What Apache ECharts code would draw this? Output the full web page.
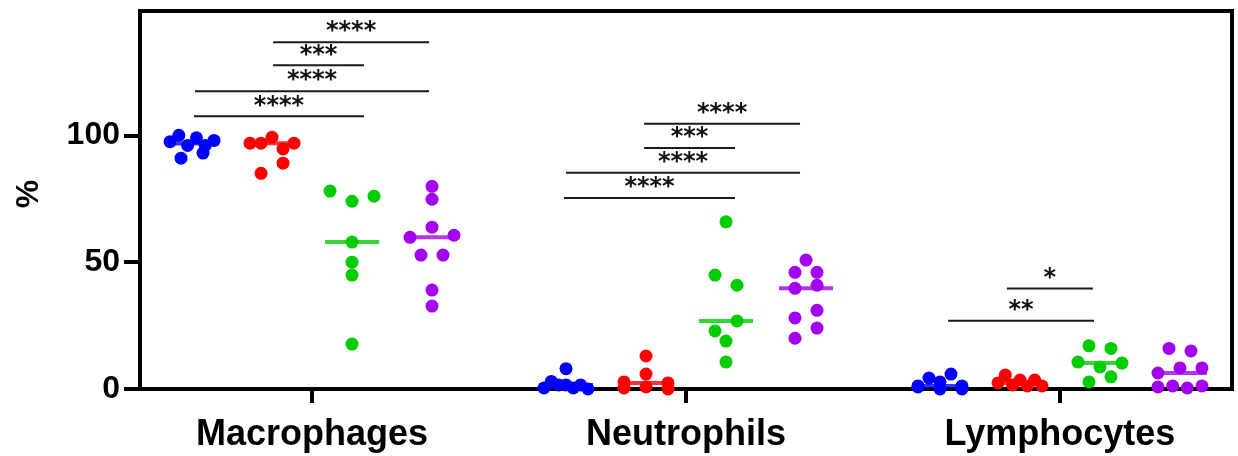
<!DOCTYPE html>
<html>
<head>
<meta charset="utf-8">
<script src="https://cdn.jsdelivr.net/npm/echarts@6/dist/echarts.min.js"></script>
<style>
html,body{margin:0;padding:0;background:#fff;}
#chart{width:1238px;height:456px;}
</style>
</head>
<body>
<div id="chart"></div>
<script>
// ---------- data ----------
const categories = ['Macrophages', 'Neutrophils', 'Lymphocytes'];
const groupColors = ['#0000ff', '#ff0000', '#00cc00', '#a200ee'];
const yTicks = [0, 50, 100];

const macBlue   = [97.5, 100, 96, 99, 96, 98, 91, 93];
const macRed    = [96.9, 96.9, 99.2, 94.6, 96.9, 85, 89];
const macGreen  = [78, 74, 76, 57.9, 50, 44.9, 17.7];
const macPurple = [79.9, 74.8, 59.8, 63.8, 60.6, 52.8, 52.8, 39, 32.7];

const neuBlue   = [8, 0.4, 3, 1.6, 1.6, 0.4, 1.6, 0];
const neuRed    = [13, 2.8, 5.9, 2.4, 0.4, 0.8, 0];
const neuGreen  = [65.9, 44.9, 40.9, 22.9, 26.8, 18.9, 10.6];
const neuPurple = [50.8, 46, 46, 39.7, 40.9, 28, 31, 20, 24];

const lymBlue   = [1.2, 4.3, 2.8, 5.9, 1.2, 0.8, 0, 0];
const lymRed    = [2.4, 5.5, 1.6, 3.5, 1.2, 3.5, 1.2];
const lymGreen  = [17, 16, 10.6, 8.7, 10.2, 2.8, 4.8];
const lymPurple = [16, 15, 6.3, 8.3, 8.3, 0.8, 1.2, 0.4, 1.2];

// significance brackets (category, x from / to relative to category, y level, label)
const bracketCat   = [0, 0, 0, 0, 1, 1, 1, 1, 2, 2];
const bracketFrom  = [-0.316, -0.313, -0.104, -0.104, -0.326, -0.321, -0.112, -0.112, -0.299, -0.142];
const bracketTo    = [0.139, 0.313, 0.139, 0.313, 0.131, 0.305, 0.131, 0.305, 0.091, 0.088];
const bracketY     = [107.5, 117.4, 127.6, 136.7, 75.3, 85.2, 95, 104.6, 26.9, 39.6];
const bracketLabel = ['****', '****', '***', '****', '****', '****', '***', '****', '**', '*'];

// ---------- layout ----------
const W = 1238, H = 456;
const GRID = {left: 140, right: 6, top: 11, bottom: 67};
const X_MIN = -0.46, X_MAX = 2.46, Y_MIN = 0, Y_MAX = 149;
const PX_X = (W - GRID.left - GRID.right) / (X_MAX - X_MIN);
const PX_Y = (H - GRID.top - GRID.bottom) / (Y_MAX - Y_MIN);
const GROUP_STEP = 80 / PX_X;
const ROW_H = 12, MAX_HALF = 22, STEP = 22;

const table = [
  [macBlue, macRed, macGreen, macPurple],
  [neuBlue, neuRed, neuGreen, neuPurple],
  [lymBlue, lymRed, lymGreen, lymPurple]
];

function swarm(vals) {
  const idx = vals.map((v, i) => i).sort((a, b) => (vals[b] - vals[a]) || (a - b));
  const rows = [];
  let cur = null;
  idx.forEach(i => {
    if (cur && (vals[cur.top] - vals[i]) * PX_Y <= ROW_H) cur.m.push(i);
    else { cur = {top: i, m: [i]}; rows.push(cur); }
  });
  const off = new Array(vals.length).fill(0);
  rows.forEach(r => {
    r.m.sort((a, b) => a - b);
    const n = r.m.length;
    const step = n > 1 ? Math.min(STEP, 2 * MAX_HALF / (n - 1)) : 0;
    r.m.forEach((i, k) => { off[i] = (k - (n - 1) / 2) * step; });
  });
  return off;
}
function median(a) {
  const s = a.slice().sort((x, y) => x - y);
  const n = s.length;
  return n % 2 ? s[(n - 1) / 2] : (s[n / 2 - 1] + s[n / 2]) / 2;
}

const series = [];
groupColors.forEach((col, g) => {
  const pts = [], meds = [];
  table.forEach((groups, c) => {
    const vals = groups[g];
    const cx = c + (g - 1.5) * GROUP_STEP;
    const off = swarm(vals);
    vals.forEach((v, i) => pts.push([cx + off[i] / PX_X, v]));
    meds.push([cx, median(vals)]);
  });
  series.push({
    type: 'scatter', data: meds, symbol: 'rect', symbolSize: [54, 4],
    itemStyle: {color: col}, z: 3, silent: true
  });
  series.push({
    type: 'scatter', data: pts, symbol: 'circle', symbolSize: 13,
    itemStyle: {color: col, opacity: 1}, z: 4, silent: true
  });
});

series.push({
  type: 'custom',
  data: bracketCat.map((c, i) => [c + bracketFrom[i], c + bracketTo[i], bracketY[i]]),
  encode: {x: [0, 1], y: 2},
  z: 5, silent: true,
  renderItem: function (params, api) {
    const p1 = api.coord([api.value(0), api.value(2)]);
    const p2 = api.coord([api.value(1), api.value(2)]);
    return {
      type: 'group',
      children: [
        {type: 'line', shape: {x1: p1[0], y1: p1[1], x2: p2[0], y2: p2[1]},
          style: {stroke: '#1a1a1a', lineWidth: 2}},
        {type: 'text', x: (p1[0] + p2[0]) / 2, y: p1[1] - 10,
          style: {text: bracketLabel[params.dataIndex], fill: '#111',
            font: 'bold 24px "DejaVu Sans"', align: 'center', verticalAlign: 'middle'}}
      ]
    };
  }
});

const chart = echarts.init(document.getElementById('chart'), null, {renderer: 'canvas'});
chart.setOption({
  animation: false,
  backgroundColor: '#fff',
  grid: {left: GRID.left, right: GRID.right, top: GRID.top, bottom: GRID.bottom,
    show: true, borderColor: '#000', borderWidth: 4, containLabel: false},
  xAxis: {
    type: 'value', min: X_MIN, max: X_MAX,
    splitLine: {show: false},
    axisLine: {show: true, onZero: false, lineStyle: {color: '#000', width: 4}},
    axisTick: {show: true, customValues: [0, 1, 2], length: 14, lineStyle: {color: '#000', width: 4}},
    axisLabel: {show: true, customValues: [0, 1, 2], formatter: v => categories[Math.round(v)] || '',
      fontSize: 36, fontWeight: 'bold', color: '#000', fontFamily: '"Liberation Sans", Arial, sans-serif', margin: 28}
  },
  yAxis: {
    type: 'value', min: Y_MIN, max: Y_MAX,
    splitLine: {show: false},
    axisLine: {show: true, onZero: false, lineStyle: {color: '#000', width: 4}},
    axisTick: {show: true, customValues: yTicks, length: 16, lineStyle: {color: '#000', width: 4}},
    axisLabel: {show: true, customValues: yTicks, fontSize: 32, fontWeight: 'bold', color: '#000',
      fontFamily: '"Liberation Sans", Arial, sans-serif', margin: 20},
    name: '%', nameLocation: 'middle', nameGap: 95,
    nameTextStyle: {fontSize: 32, fontWeight: 'bold', color: '#000',
      fontFamily: '"Liberation Sans", Arial, sans-serif', padding: [0, 0, 0, 12]}
  },
  series: series
});
</script>
</body>
</html>
